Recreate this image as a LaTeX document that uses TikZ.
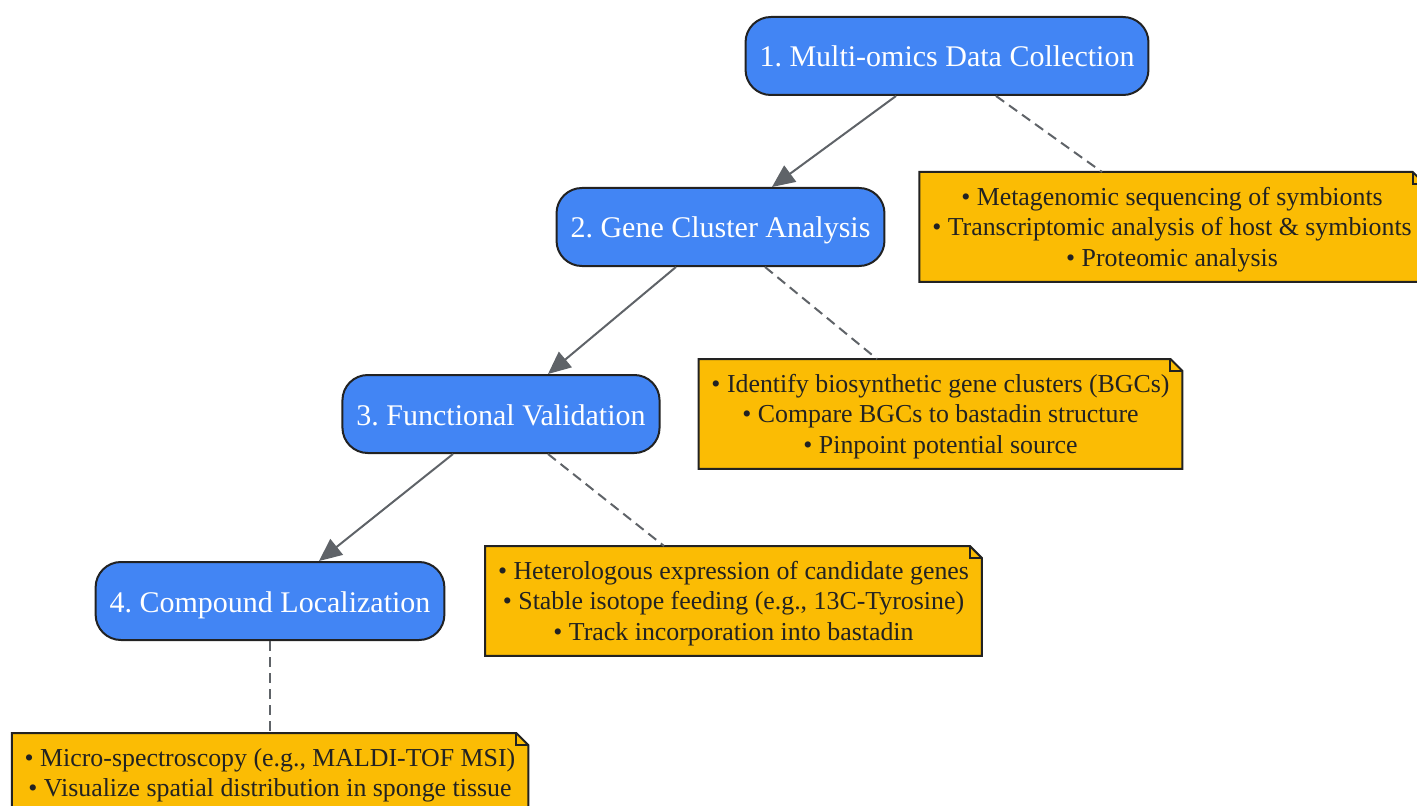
\documentclass[tikz,border=0pt]{standalone}
\usepackage{fontspec}
\setmainfont{Liberation Serif}
\usetikzlibrary{arrows.meta,backgrounds}

\definecolor{stepblue}{HTML}{4285F4}
\definecolor{noteamber}{HTML}{FBBC04}
\definecolor{edgegray}{HTML}{5F6368}
\definecolor{inkdark}{HTML}{222222}

\tikzset{
  stepnode/.style={draw=inkdark, line width=1.5pt, fill=stepblue, rounded corners=19pt,
    minimum height=58.5pt, inner xsep=10.5pt, text height=16.5pt, text depth=0pt,
    text=white, font=\fontsize{22.5}{27}\selectfont},
  notenode/.style={inner xsep=9.5pt, inner ysep=0pt, text height=24.75pt,
    text depth=57.25pt, text=inkdark, anchor=north,
    font=\fontsize{19.4}{22.9}\selectfont},
  flow/.style={edgegray, line width=1.5pt, -{Triangle[length=17pt,width=15pt]}},
  link/.style={edgegray, line width=1.5pt, dash pattern=on 7.5pt off 4.5pt},
}

\newcommand{\noterows}[1]{\begin{tabular}[t]{@{}c@{}}#1\end{tabular}}

% folded note outline behind a note node
\newcommand{\noteframe}[1]{%
  \begin{scope}[on background layer]
  \filldraw[fill=noteamber, draw=inkdark, line width=1.5pt, line join=miter]
    (#1.north west) -- ([xshift=-9pt]#1.north east) -- ([yshift=-9pt]#1.north east)
    -- (#1.south east) -- (#1.south west) -- cycle;
  \draw[inkdark, line width=1.5pt]
    ([xshift=-9pt]#1.north east) -- ([xshift=-9pt,yshift=-9pt]#1.north east)
    -- ([yshift=-9pt]#1.north east);
  \end{scope}}

\frenchspacing

\begin{document}
\begin{tikzpicture}[x=0.75pt, y=-0.75pt]
  \useasboundingbox (0,0) rectangle (1417,806);

  % steps
  \node[stepnode] (s1) at (947,56)   {1. Multi-omics Data Collection};
  \node[stepnode] (s2) at (720.5,227) {2. Gene Cluster Analysis};
  \node[stepnode] (s3) at (501,414)  {3. Functional Validation};
  \node[stepnode] (s4) at (270,601)  {4. Compound Localization};

  % notes
  \node[notenode] (n1) at (1172,172) {\noterows{• Metagenomic sequencing of symbionts\\
    • Transcriptomic analysis of host \& symbionts\\ • Proteomic analysis}};
  \node[notenode] (n2) at (940.5,359) {\noterows{• Identify biosynthetic gene clusters (BGCs)\\
    • Compare BGCs to bastadin structure\\ • Pinpoint potential source}};
  \node[notenode] (n3) at (733.5,546) {\noterows{• Heterologous expression of candidate genes\\
    • Stable isotope feeding (e.g., 13C-Tyrosine)\\ • Track incorporation into bastadin}};
  \node[notenode, text depth=34.35pt] (n4) at (270,733) {\noterows{• Micro-spectroscopy (e.g., MALDI-TOF MSI)\\
    • Visualize spatial distribution in sponge tissue}};
  \noteframe{n1}
  \noteframe{n2}
  \noteframe{n3}
  \noteframe{n4}

  % flow
  \draw[flow] ([xshift=-38.25pt]s1.south) -- ([xshift=38.6pt]s2.north);
  \draw[flow] ([xshift=-33.4pt]s2.south) -- ([xshift=35.25pt]s3.north);
  \draw[flow] ([xshift=-36pt]s3.south) -- ([xshift=36.75pt]s4.north);

  % note links
  \draw[link] ([xshift=36.75pt]s1.south) -- ([xshift=-52.5pt]n1.north);
  \draw[link] ([xshift=33.4pt]s2.south) -- ([xshift=-47.6pt]n2.north);
  \draw[link] ([xshift=35.25pt]s3.south) -- ([xshift=-52.1pt]n3.north);
  \draw[link] (s4.south) -- (n4.north);
\end{tikzpicture}
\end{document}
